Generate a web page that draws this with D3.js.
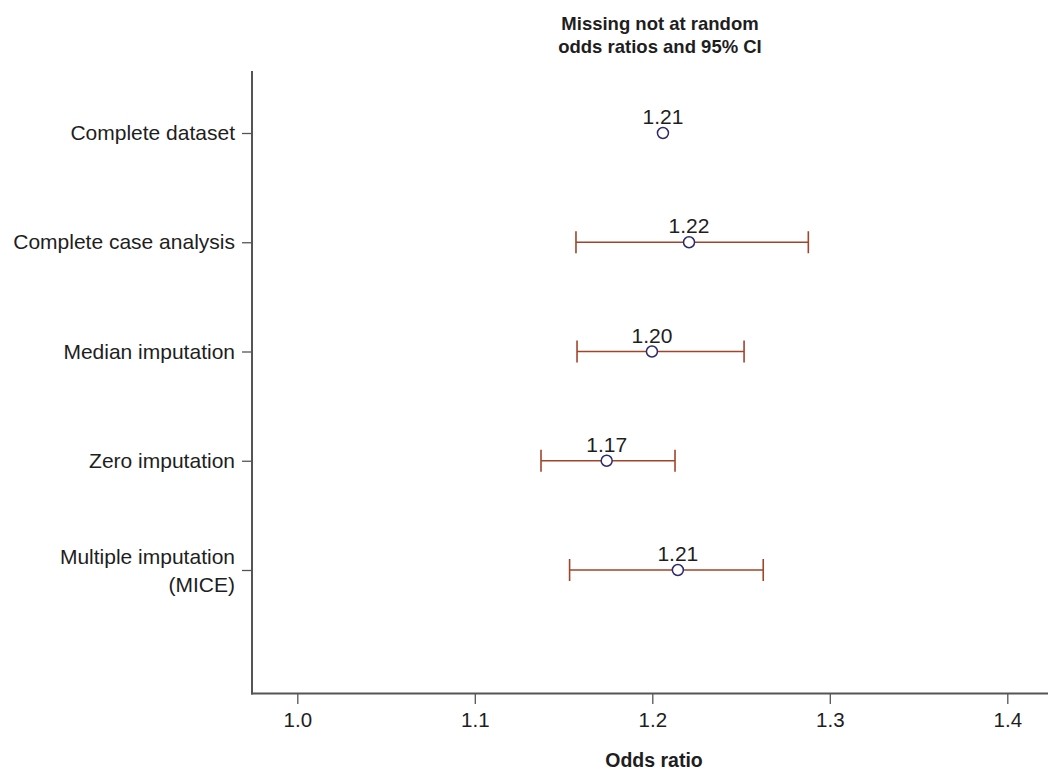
<!DOCTYPE html>
<html>
<head>
<meta charset="utf-8">
<script src="https://cdn.jsdelivr.net/npm/d3@7"></script>
<style>
  html, body { margin: 0; padding: 0; background: #fff; }
  svg { display: block; font-family: "Liberation Sans", Arial, Helvetica, sans-serif; }
</style>
</head>
<body>
<svg id="chart" width="1048" height="772"></svg>
<script>
// ---- Data ----
const categories = ["Complete dataset", "Complete case analysis", "Median imputation", "Zero imputation", "Multiple imputation (MICE)"];
const categoryLines = [["Complete dataset"], ["Complete case analysis"], ["Median imputation"], ["Zero imputation"], ["Multiple imputation", "(MICE)"]];
const oddsRatio = [1.206, 1.2207, 1.1998, 1.1743, 1.2144];
const ciLower = [null, 1.1570, 1.1576, 1.1373, 1.1534];
const ciUpper = [null, 1.2879, 1.2517, 1.2128, 1.2625];
const valueLabels = ["1.21", "1.22", "1.20", "1.17", "1.21"];
const xTicks = [1.0, 1.1, 1.2, 1.3, 1.4];
const titleLines = ["Missing not at random", "odds ratios and 95% CI"];
const xAxisTitle = "Odds ratio";

// ---- Layout ----
const svg = d3.select("#chart");
const axisColor = "#555";
const textColor = "#1e1e1e";
const ciColor = "#a0442a";
const pointColor = "#2b2b6e";

const x = d3.scaleLinear().domain([1.0, 1.4]).range([297.3, 1007.3]);
const y = d3.scalePoint().domain(categories).range([133, 570]);

const plotLeft = 252, plotBottom = 693.5, plotTop = 71, plotRight = 1048;

// Axis lines
svg.append("line").attr("x1", plotLeft).attr("x2", plotLeft).attr("y1", plotTop).attr("y2", plotBottom + 1)
  .attr("stroke", axisColor).attr("stroke-width", 2);
svg.append("line").attr("x1", plotLeft - 1).attr("x2", plotRight).attr("y1", plotBottom).attr("y2", plotBottom)
  .attr("stroke", axisColor).attr("stroke-width", 2);

// X axis ticks via d3 axis
const xAxis = d3.axisBottom(x).tickValues(xTicks).tickFormat(d3.format(".1f")).tickSize(10).tickPadding(8);
const gx = svg.append("g").attr("transform", `translate(0,${plotBottom + 0.5})`).call(xAxis);
gx.select(".domain").remove();
gx.selectAll(".tick line").attr("stroke", axisColor).attr("stroke-width", 1.3);
gx.selectAll(".tick text").attr("fill", textColor).attr("font-size", 20.5)
  .attr("font-family", "Liberation Sans, Arial, sans-serif");

// Y axis ticks via d3 axis
const yAxis = d3.axisLeft(y).tickSize(10).tickFormat("");
const gy = svg.append("g").attr("transform", `translate(${plotLeft},0)`).call(yAxis);
gy.select(".domain").remove();
gy.selectAll(".tick line").attr("stroke", axisColor).attr("stroke-width", 1.3);

// Category labels
categories.forEach((c, i) => {
  const lines = categoryLines[i];
  const t = svg.append("text")
    .attr("x", 235)
    .attr("text-anchor", "end")
    .attr("fill", textColor)
    .attr("font-size", 21);
  if (lines.length === 1) {
    t.attr("y", y(c) + 7).text(lines[0]);
  } else {
    lines.forEach((ln, j) => {
      t.append("tspan").attr("x", 235).attr("y", y(c) - 6 + j * 28).text(ln);
    });
  }
});

// CI lines
const rows = categories.map((c, i) => ({ c, or: oddsRatio[i], lo: ciLower[i], hi: ciUpper[i], lab: valueLabels[i] }));
const ciRows = rows.filter(d => d.lo != null);
svg.append("g").selectAll("line.ci").data(ciRows).join("line")
  .attr("x1", d => x(d.lo)).attr("x2", d => x(d.hi))
  .attr("y1", d => y(d.c)).attr("y2", d => y(d.c))
  .attr("stroke", ciColor).attr("stroke-width", 1.6);
svg.append("g").selectAll("line.capL").data(ciRows).join("line")
  .attr("x1", d => x(d.lo)).attr("x2", d => x(d.lo))
  .attr("y1", d => y(d.c) - 11).attr("y2", d => y(d.c) + 11)
  .attr("stroke", ciColor).attr("stroke-width", 1.6);
svg.append("g").selectAll("line.capR").data(ciRows).join("line")
  .attr("x1", d => x(d.hi)).attr("x2", d => x(d.hi))
  .attr("y1", d => y(d.c) - 11).attr("y2", d => y(d.c) + 11)
  .attr("stroke", ciColor).attr("stroke-width", 1.6);

// Points
svg.append("g").selectAll("circle").data(rows).join("circle")
  .attr("cx", d => x(d.or)).attr("cy", d => y(d.c)).attr("r", 5.5)
  .attr("fill", "#fff").attr("stroke", pointColor).attr("stroke-width", 1.5);

// Value labels
svg.append("g").selectAll("text").data(rows).join("text")
  .attr("x", d => x(d.or)).attr("y", d => y(d.c) - 9)
  .attr("text-anchor", "middle").attr("fill", textColor).attr("font-size", 21)
  .text(d => d.lab);

// Title
svg.append("text").attr("x", 660).attr("text-anchor", "middle").attr("fill", textColor)
  .attr("font-size", 18.5).attr("font-weight", "bold")
  .selectAll("tspan").data(titleLines).join("tspan")
  .attr("x", 660).attr("y", (d, i) => 29.5 + i * 23.5).text(d => d);

// X axis title
svg.append("text").attr("x", 654).attr("y", 767).attr("text-anchor", "middle")
  .attr("fill", textColor).attr("font-size", 19.5).attr("font-weight", "bold").text(xAxisTitle);
</script>
</body>
</html>
